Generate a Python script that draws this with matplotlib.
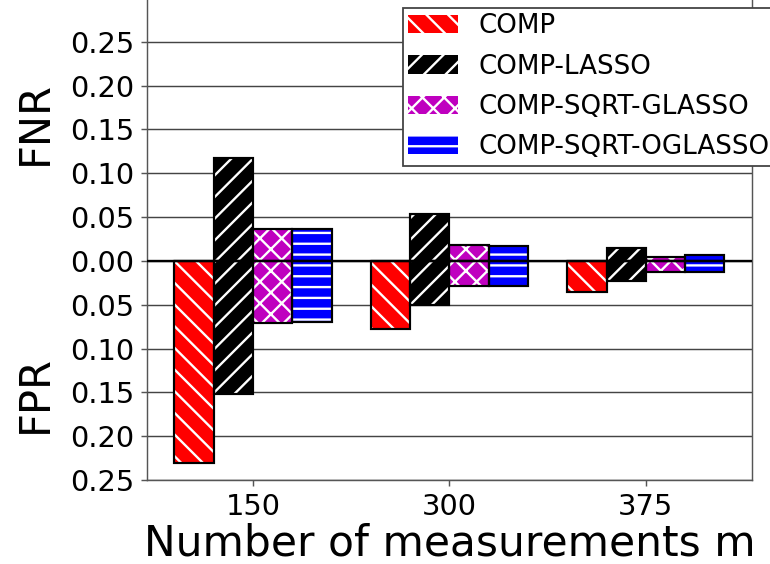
import matplotlib
matplotlib.use("Agg")
import matplotlib.pyplot as plt
import numpy as np

# Daten
measurements = ["150", "300", "375"]
methods = ["COMP", "COMP-LASSO", "COMP-SQRT-GLASSO", "COMP-SQRT-OGLASSO"]
fnr_comp = [0.0, 0.0, 0.0]
fnr_lasso = [0.118, 0.053, 0.015]
fnr_glasso = [0.036, 0.018, 0.005]
fnr_oglasso = [0.037, 0.017, 0.007]
fpr_comp = [0.231, 0.078, 0.035]
fpr_lasso = [0.152, 0.050, 0.023]
fpr_glasso = [0.071, 0.029, 0.013]
fpr_oglasso = [0.070, 0.029, 0.013]

fnr = [fnr_comp, fnr_lasso, fnr_glasso, fnr_oglasso]
fpr = [fpr_comp, fpr_lasso, fpr_glasso, fpr_oglasso]
colors = ["red", "black", "m", "blue"]
hatches = ["\\\\", "//", "xx", "--"]

plt.rcParams["hatch.linewidth"] = 1.3

fig = plt.figure(figsize=(770 / 130, 564 / 130), dpi=130)
ax = fig.add_axes([0.1909, 0.1489, 0.7857, 0.8546])

x = np.arange(len(measurements))
w = 0.2
for i in range(len(methods)):
    pos = x + (i - 1.5) * w
    # gefuellte Balken mit weisser Schraffur
    ax.bar(pos, fnr[i], w, color=colors[i], edgecolor="white", linewidth=0,
           hatch=hatches[i], label=methods[i], zorder=2)
    ax.bar(pos, -np.array(fpr[i]), w, color=colors[i], edgecolor="white", linewidth=0,
           hatch=hatches[i], zorder=2)
    # schwarze Umrandung
    ax.bar(pos, fnr[i], w, fill=False, edgecolor="black", linewidth=1.2, zorder=3)
    ax.bar(pos, -np.array(fpr[i]), w, fill=False, edgecolor="black", linewidth=1.2, zorder=3)

ax.axhline(0, color="black", linewidth=1.3, zorder=4)

yt = np.round(np.arange(-0.25, 0.2501, 0.05), 2)
ax.set_yticks(yt)
ax.set_yticklabels([f"{abs(v):.2f}" for v in yt], fontsize=16)
ax.set_ylim(-0.25, 0.30)
ax.set_xticks(x)
ax.set_xticklabels(measurements, fontsize=16)
ax.yaxis.grid(True, color="#444444", linewidth=0.8, zorder=0)
ax.set_axisbelow(True)
for s in ax.spines.values():
    s.set_color("#555555")
ax.tick_params(colors="#555555", labelcolor="black")

ax.set_xlabel("Number of measurements m", fontsize=23.5, labelpad=1)
fig.text(35 / 770, 1 - 123 / 564, "FNR", rotation=90, fontsize=23, ha="center", va="center")
fig.text(35 / 770, 1 - 394 / 564, "FPR", rotation=90, fontsize=23, ha="center", va="center")

leg = fig.legend(loc="upper left", bbox_to_anchor=(403 / 770, 1 - 8 / 564), fontsize=14.5,
                 fancybox=False, framealpha=1, edgecolor="#444444", borderaxespad=0,
                 borderpad=0.2, labelspacing=0.55, handlelength=1.9)

fig.savefig("out.png", dpi=130)
